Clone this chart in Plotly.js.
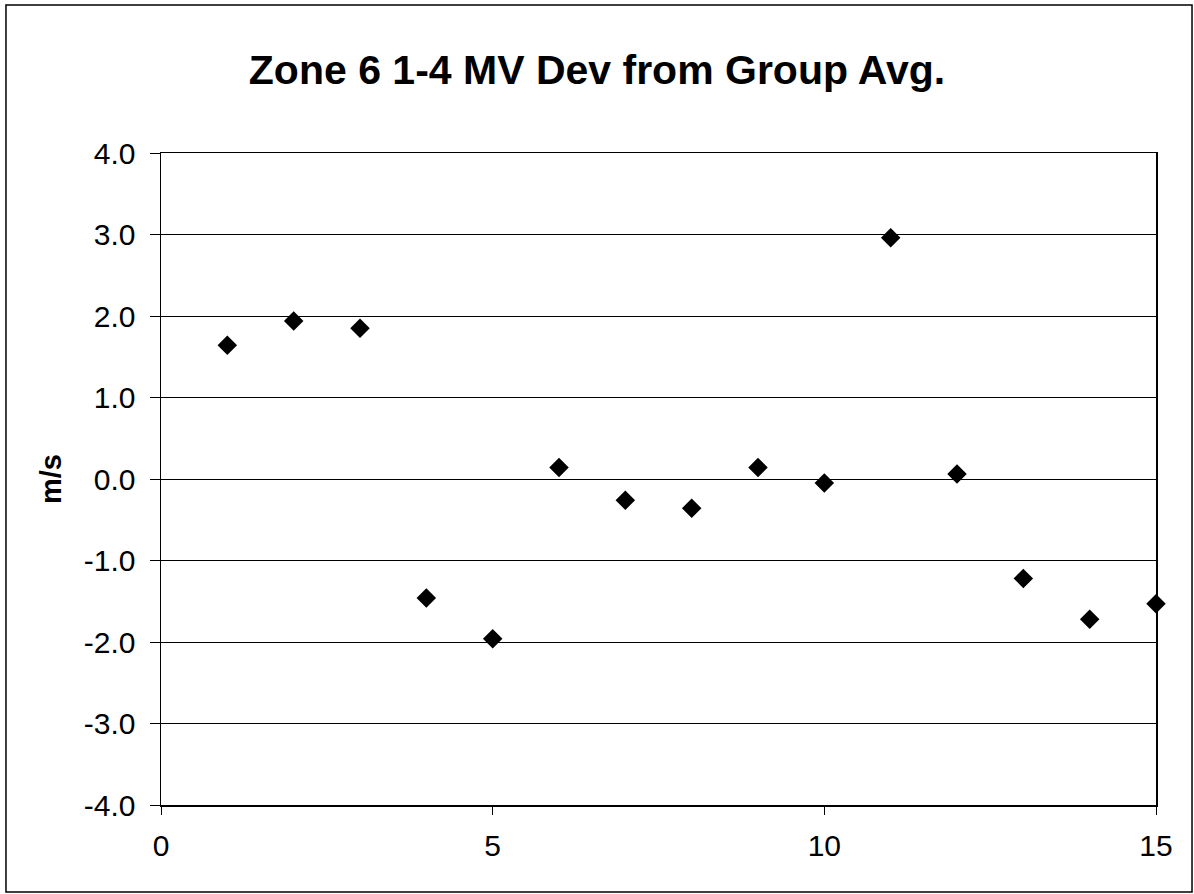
<!DOCTYPE html>
<html>
<head>
<meta charset="utf-8">
<script src="https://cdn.plot.ly/plotly-3.0.1.min.js"></script>
<style>html,body{margin:0;padding:0;background:#fff;}#chart{width:1194px;height:894px;}</style>
</head>
<body>
<div id="chart"></div>
<script>
const xValues = [1, 2, 3, 4, 5, 6, 7, 8, 9, 10, 11, 12, 13, 14, 15];
const devValues = [1.64, 1.94, 1.85, -1.46, -1.96, 0.14, -0.26, -0.36, 0.14, -0.05, 2.96, 0.06, -1.22, -1.72, -1.53];
const yTickVals = [-4, -3, -2, -1, 0, 1, 2, 3, 4];
const yTickText = ["-4.0", "-3.0", "-2.0", "-1.0", "0.0", "1.0", "2.0", "3.0", "4.0"];
const xTickVals = [0, 5, 10, 15];

const font = "Liberation Sans, Arial, sans-serif";
const trace = {
  x: xValues, y: devValues, type: 'scatter', mode: 'markers',
  marker: {symbol: 'diamond', size: 15, color: '#000'},
  showlegend: false, hoverinfo: 'skip', cliponaxis: false
};
const layout = {
  width: 1194, height: 894,
  margin: {l: 161, r: 38, t: 153, b: 89},
  paper_bgcolor: '#fff', plot_bgcolor: '#fff',
  font: {family: font, color: '#000', size: 30},
  title: {text: '<b>Zone 6 1-4 MV Dev from Group Avg.</b>', font: {family: font, size: 41, color: '#000'},
          x: 0.5, xref: 'container', xanchor: 'center', y: 0.922, yref: 'container', yanchor: 'middle'},
  xaxis: {range: [0, 15], tickvals: xTickVals, ticks: 'outside', ticklen: 8, tickcolor: '#000',
          showline: true, mirror: true, linecolor: '#000', linewidth: 1.5, showgrid: false, zeroline: false,
          tickfont: {family: font, size: 30, color: '#000'}, ticklabelstandoff: 5},
  yaxis: {range: [-4, 4], tickvals: yTickVals, ticktext: yTickText, ticks: 'outside', ticklen: 10, tickcolor: '#000',
          showline: true, mirror: true, linecolor: '#000', linewidth: 1.5, showgrid: true, gridcolor: '#000', gridwidth: 1,
          zeroline: false, tickfont: {family: font, size: 30, color: '#000'}, ticklabelstandoff: 8,
          title: {text: '<b>m/s</b>', font: {family: font, size: 29, color: '#000'}, standoff: 13}},
  shapes: [{type: 'rect', xref: 'paper', yref: 'paper', x0: -0.1558, x1: 1.0362, y0: -0.1334, y1: 1.227,
            line: {color: '#000', width: 1.5}, fillcolor: 'rgba(0,0,0,0)', layer: 'below'}]
};
Plotly.newPlot('chart', [trace], layout, {staticPlot: true, displayModeBar: false});
</script>
</body>
</html>
